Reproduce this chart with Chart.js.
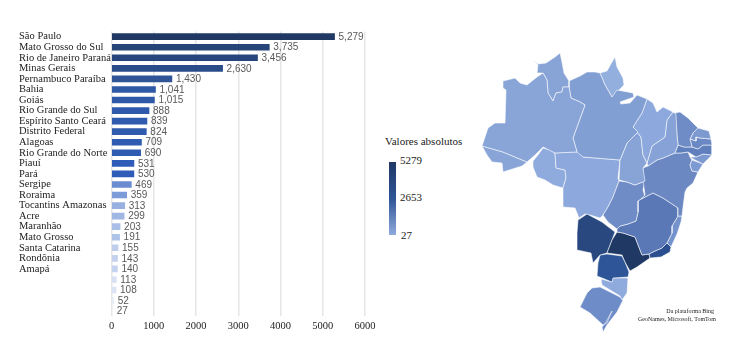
<!DOCTYPE html>
<html>
<head>
<meta charset="utf-8">
<script src="https://cdn.jsdelivr.net/npm/chart.js@4/dist/chart.umd.js"></script>
<style>
  html, body { margin: 0; padding: 0; background: #fff; width: 736px; height: 350px; overflow: hidden; }
  #barBox { position: absolute; left: 0; top: 20px; width: 380px; height: 320px; }
  #mapBox { position: absolute; left: 470px; top: 40px; width: 260px; height: 300px; }
  .txt { position: absolute; font-family: "Liberation Serif", serif; color: #222; white-space: nowrap; line-height: 1; }
  #ramp { position: absolute; left: 389px; top: 162px; width: 7px; height: 73px;
    background: linear-gradient(#1f3864, #2f5597 50%, #8faadc); }
</style>
</head>
<body>
<div id="barBox"><canvas id="barChart"></canvas></div>
<div id="mapBox"><canvas id="mapChart"></canvas></div>

<div class="txt" style="left:385px;top:136px;font-size:11px">Valores absolutos</div>
<div id="ramp"></div>
<div class="txt" style="left:400px;top:155px;font-size:11px">5279</div>
<div class="txt" style="left:400px;top:192px;font-size:11px">2653</div>
<div class="txt" style="left:401px;top:230px;font-size:11px">27</div>
<div class="txt" style="right:22px;top:308px;font-size:6px">Da plataforma Bing</div>
<div class="txt" style="right:20px;top:316px;font-size:6px">GeoNames, Microsoft, TomTom</div>

<script>
// bar chart data
const regionLabels = ["São Paulo", "Mato Grosso do Sul", "Rio de Janeiro Paraná", "Minas Gerais",
  "Pernambuco Paraíba", "Bahia", "Goiás", "Rio Grande do Sul", "Espírito Santo Ceará", "Distrito Federal",
  "Alagoas", "Rio Grande do Norte", "Piauí", "Pará", "Sergipe", "Roraima", "Tocantins Amazonas", "Acre",
  "Maranhão", "Mato Grosso", "Santa Catarina", "Rondônia", "Amapá", "", "", "", ""];
const regionValues = [5279, 3735, 3456, 2630, 1430, 1041, 1015, 888, 839, 824, 709, 690, 531, 530, 469,
  359, 313, 299, 203, 191, 155, 143, 140, 113, 108, 52, 27];
const xTicks = [0, 1000, 2000, 3000, 4000, 5000, 6000];

// outlines of the states (x, y in picture pixels)
const amazonas = [[503,81],[515,78],[520,83],[527,85],[537,77],[543,73],[547,80],[548,93],[553,101],[556,93],[562,92],[563,87],[569,87],[571,98],[580,102],[585,105],[573,138],[577,152],[555,153],[543,147],[535,155],[527,162],[503,152],[482,146],[488,128],[495,123],[505,123],[506,90],[503,88]];
const acre = [[482,146],[503,152],[527,162],[522,166],[503,172],[502,163],[492,162],[487,155]];
const roraima = [[533,60],[538,64],[546,63],[555,57],[560,53],[562,62],[564,73],[569,81],[569,87],[563,87],[562,92],[556,93],[553,101],[548,93],[547,80],[543,73],[537,73],[538,65]];
const para = [[569,81],[580,76],[587,72],[595,72],[600,73],[605,85],[612,97],[617,90],[633,93],[634,97],[620,102],[621,104],[630,103],[637,95],[647,99],[642,113],[633,127],[638,132],[627,143],[620,160],[583,157],[577,152],[573,138],[585,105],[580,102],[571,98],[569,87]];
const amapa = [[600,73],[607,71],[612,62],[615,57],[617,67],[623,78],[624,85],[617,92],[612,97],[605,85]];
const maranhao = [[647,99],[653,103],[657,112],[663,107],[673,112],[667,120],[665,137],[652,146],[647,163],[643,155],[641,137],[633,127],[642,113]];
const tocantins = [[633,127],[641,137],[643,155],[647,163],[643,168],[645,181],[635,185],[627,182],[619,180],[620,160],[627,143],[638,132]];
const piaui = [[673,112],[676,114],[677,135],[678,145],[675,153],[663,158],[657,160],[648,166],[647,163],[652,146],[665,137],[667,120]];
const ceara = [[675,113],[680,112],[688,118],[698,128],[693,133],[690,139],[692,147],[684,147],[678,145],[677,135]];
const rioGrandeNorte = [[698,128],[709,131],[711,139],[700,138],[696,137],[696,141],[690,139],[693,133]];
const paraiba = [[690,139],[696,141],[696,137],[700,138],[711,139],[712,145],[703,145],[698,149],[692,147]];
const pernambuco = [[678,145],[684,147],[692,147],[698,149],[703,145],[712,145],[712,155],[703,154],[696,157],[688,152],[681,153],[675,153]];
const alagoas = [[712,155],[703,164],[695,160],[690,157],[696,157],[703,154]];
const sergipe = [[692,160],[703,164],[698,172],[692,171],[690,165]];
const bahia = [[648,166],[657,160],[663,158],[675,153],[681,153],[688,152],[690,157],[692,160],[690,165],[692,171],[698,172],[693,183],[687,188],[685,192],[683,207],[682,216],[678,216],[678,208],[663,198],[653,193],[641,199],[645,195],[643,180],[643,168]];
const goias = [[619,181],[627,182],[635,185],[645,181],[643,190],[645,197],[641,199],[638,201],[638,212],[636,221],[628,224],[620,226],[617,229],[608,222],[603,215],[608,207],[613,197]];
const distritoFederal = [[632,202],[637,202],[637,207],[632,207]];
const minasGerais = [[638,201],[641,199],[653,193],[663,198],[678,208],[678,216],[672,226],[672,233],[667,243],[662,248],[655,251],[649,254],[642,255],[635,237],[623,233],[617,232],[617,229],[620,226],[628,224],[636,221],[638,212]];
const espiritoSanto = [[678,216],[682,216],[681,222],[677,234],[671,247],[667,243],[672,233],[672,226]];
const rioJaneiro = [[667,243],[671,247],[670,252],[661,257],[650,258],[649,254],[655,251],[662,248]];
const saoPaulo = [[617,232],[623,233],[635,237],[642,255],[649,254],[650,258],[637,267],[630,271],[625,262],[622,255],[607,253],[612,240]];
const matoGrossoSul = [[578,220],[587,214],[602,222],[615,232],[612,240],[607,253],[600,255],[593,263],[591,253],[577,250],[577,233]];
const matoGrosso = [[555,153],[573,152],[578,152],[583,157],[620,160],[618,178],[619,181],[613,197],[608,207],[603,215],[600,218],[590,215],[585,214],[579,218],[575,208],[563,207],[563,188],[566,178],[565,170],[556,168]];
const rondonia = [[543,148],[550,150],[555,153],[556,168],[565,170],[566,178],[563,188],[553,185],[545,180],[537,177],[533,167],[533,161],[538,155]];
const parana = [[600,255],[607,254],[622,256],[625,262],[629,272],[628,277],[613,278],[612,282],[597,276],[598,263]];
const santaCatarina = [[601,279],[612,282],[613,278],[628,278],[627,293],[622,300],[620,296],[602,285]];
const rioGrandeSul = [[600,287],[620,297],[623,300],[617,312],[607,325],[603,332],[602,327],[606,322],[612,311],[607,323],[603,325],[590,313],[580,307],[587,293],[592,288]];

const mapStates = [amazonas, acre, roraima, para, amapa, maranhao, tocantins, piaui, ceara, rioGrandeNorte,
  paraiba, pernambuco, alagoas, sergipe, bahia, goias, minasGerais, distritoFederal, espiritoSanto, rioJaneiro,
  saoPaulo, matoGrossoSul, matoGrosso, rondonia, parana, santaCatarina, rioGrandeSul];
const mapColors = ["#89a5d8", "#89a5d8", "#88a4d6", "#819fd2", "#93afde", "#8ca8dc", "#88a4d7", "#86a2d6", "#6f8cc6", "#7c99d0",
  "#6a88c3", "#5f7fbd", "#7c99d0", "#7d9ad2", "#6b88c3", "#6f8cc6", "#5a78b5", "#6f8cc6", "#7492cb", "#2b4f8e",
  "#1f3864", "#28487f", "#8da8dc", "#8faadc", "#2e5597", "#8faadc", "#6e8cc7"];

// colour ramp of the bars
const rampValues = [27, 52, 108, 140, 203, 299, 359, 469, 530, 1430, 2630, 3735, 5279];
const rampColors = [[240,243,250],[232,238,248],[219,228,245],[197,211,238],[169,191,231],[160,183,227],[124,155,216],[107,140,208],[47,92,184],[47,85,151],[42,77,138],[38,68,120],[31,56,100]];

function barColor(v) {
  let i = 0;
  while (i < rampValues.length - 2 && v > rampValues[i + 1]) i++;
  const t = (v - rampValues[i]) / (rampValues[i + 1] - rampValues[i]);
  const c = rampColors[i].map((a, k) => Math.round(a + (rampColors[i + 1][k] - a) * t));
  return "rgb(" + c.join(",") + ")";
}

const valueLabels = {
  id: "valueLabels",
  afterDatasetsDraw(chart) {
    const ctx = chart.ctx;
    const meta = chart.getDatasetMeta(0);
    ctx.save();
    ctx.font = '10px "Liberation Sans", sans-serif';
    ctx.fillStyle = "#595959";
    ctx.textAlign = "left";
    ctx.textBaseline = "middle";
    meta.data.forEach((bar, i) => {
      ctx.fillText(regionValues[i].toLocaleString("en-US"), bar.x + 4, bar.y + 0.5);
    });
    ctx.restore();
  }
};

new Chart("barChart", {
  type: "bar",
  data: {
    labels: regionLabels,
    datasets: [{
      data: regionValues,
      backgroundColor: regionValues.map(barColor),
      barThickness: 6
    }]
  },
  plugins: [valueLabels],
  options: {
    indexAxis: "y",
    responsive: true,
    maintainAspectRatio: false,
    animation: false,
    layout: { padding: { left: 19, right: 15, top: 11.4, bottom: 0 } },
    plugins: { legend: { display: false }, tooltip: { enabled: false } },
    scales: {
      x: {
        min: 0, max: 6000,
        afterBuildTicks: s => { s.ticks = xTicks.map(v => ({ value: v })); },
        afterFit: s => { s.height = 23.6; s.paddingLeft = 0; s.paddingRight = 0; },
        border: { display: false },
        grid: { color: "#e6e6e6", lineWidth: 1.5, drawTicks: false },
        ticks: {
          padding: 4, maxRotation: 0, color: "#222",
          font: { family: "Liberation Serif", size: 10.5 },
          callback: v => String(v)
        }
      },
      y: {
        afterFit: s => { s.width = 92.5; s.paddingTop = 0; s.paddingBottom = 0; },
        border: { display: false },
        grid: { display: false },
        ticks: {
          autoSkip: false, crossAlign: "far", padding: 0, color: "#222",
          font: { family: "Liberation Serif", size: 10.5 }
        }
      }
    }
  }
});

new Chart("mapChart", {
  type: "scatter",
  data: {
    datasets: mapStates.map((pts, i) => ({
      data: pts.concat([pts[0]]).map(p => ({ x: p[0], y: p[1] })),
      showLine: true,
      fill: "shape",
      backgroundColor: mapColors[i],
      borderColor: "rgba(255,255,255,0.7)",
      borderWidth: 0.8,
      pointRadius: 0,
      tension: 0
    }))
  },
  options: {
    responsive: true,
    maintainAspectRatio: false,
    animation: false,
    layout: { padding: 0 },
    plugins: { legend: { display: false }, tooltip: { enabled: false } },
    scales: {
      x: { type: "linear", display: false, min: 470, max: 730 },
      y: { type: "linear", display: false, min: 40, max: 340, reverse: true }
    }
  }
});
</script>
</body>
</html>
